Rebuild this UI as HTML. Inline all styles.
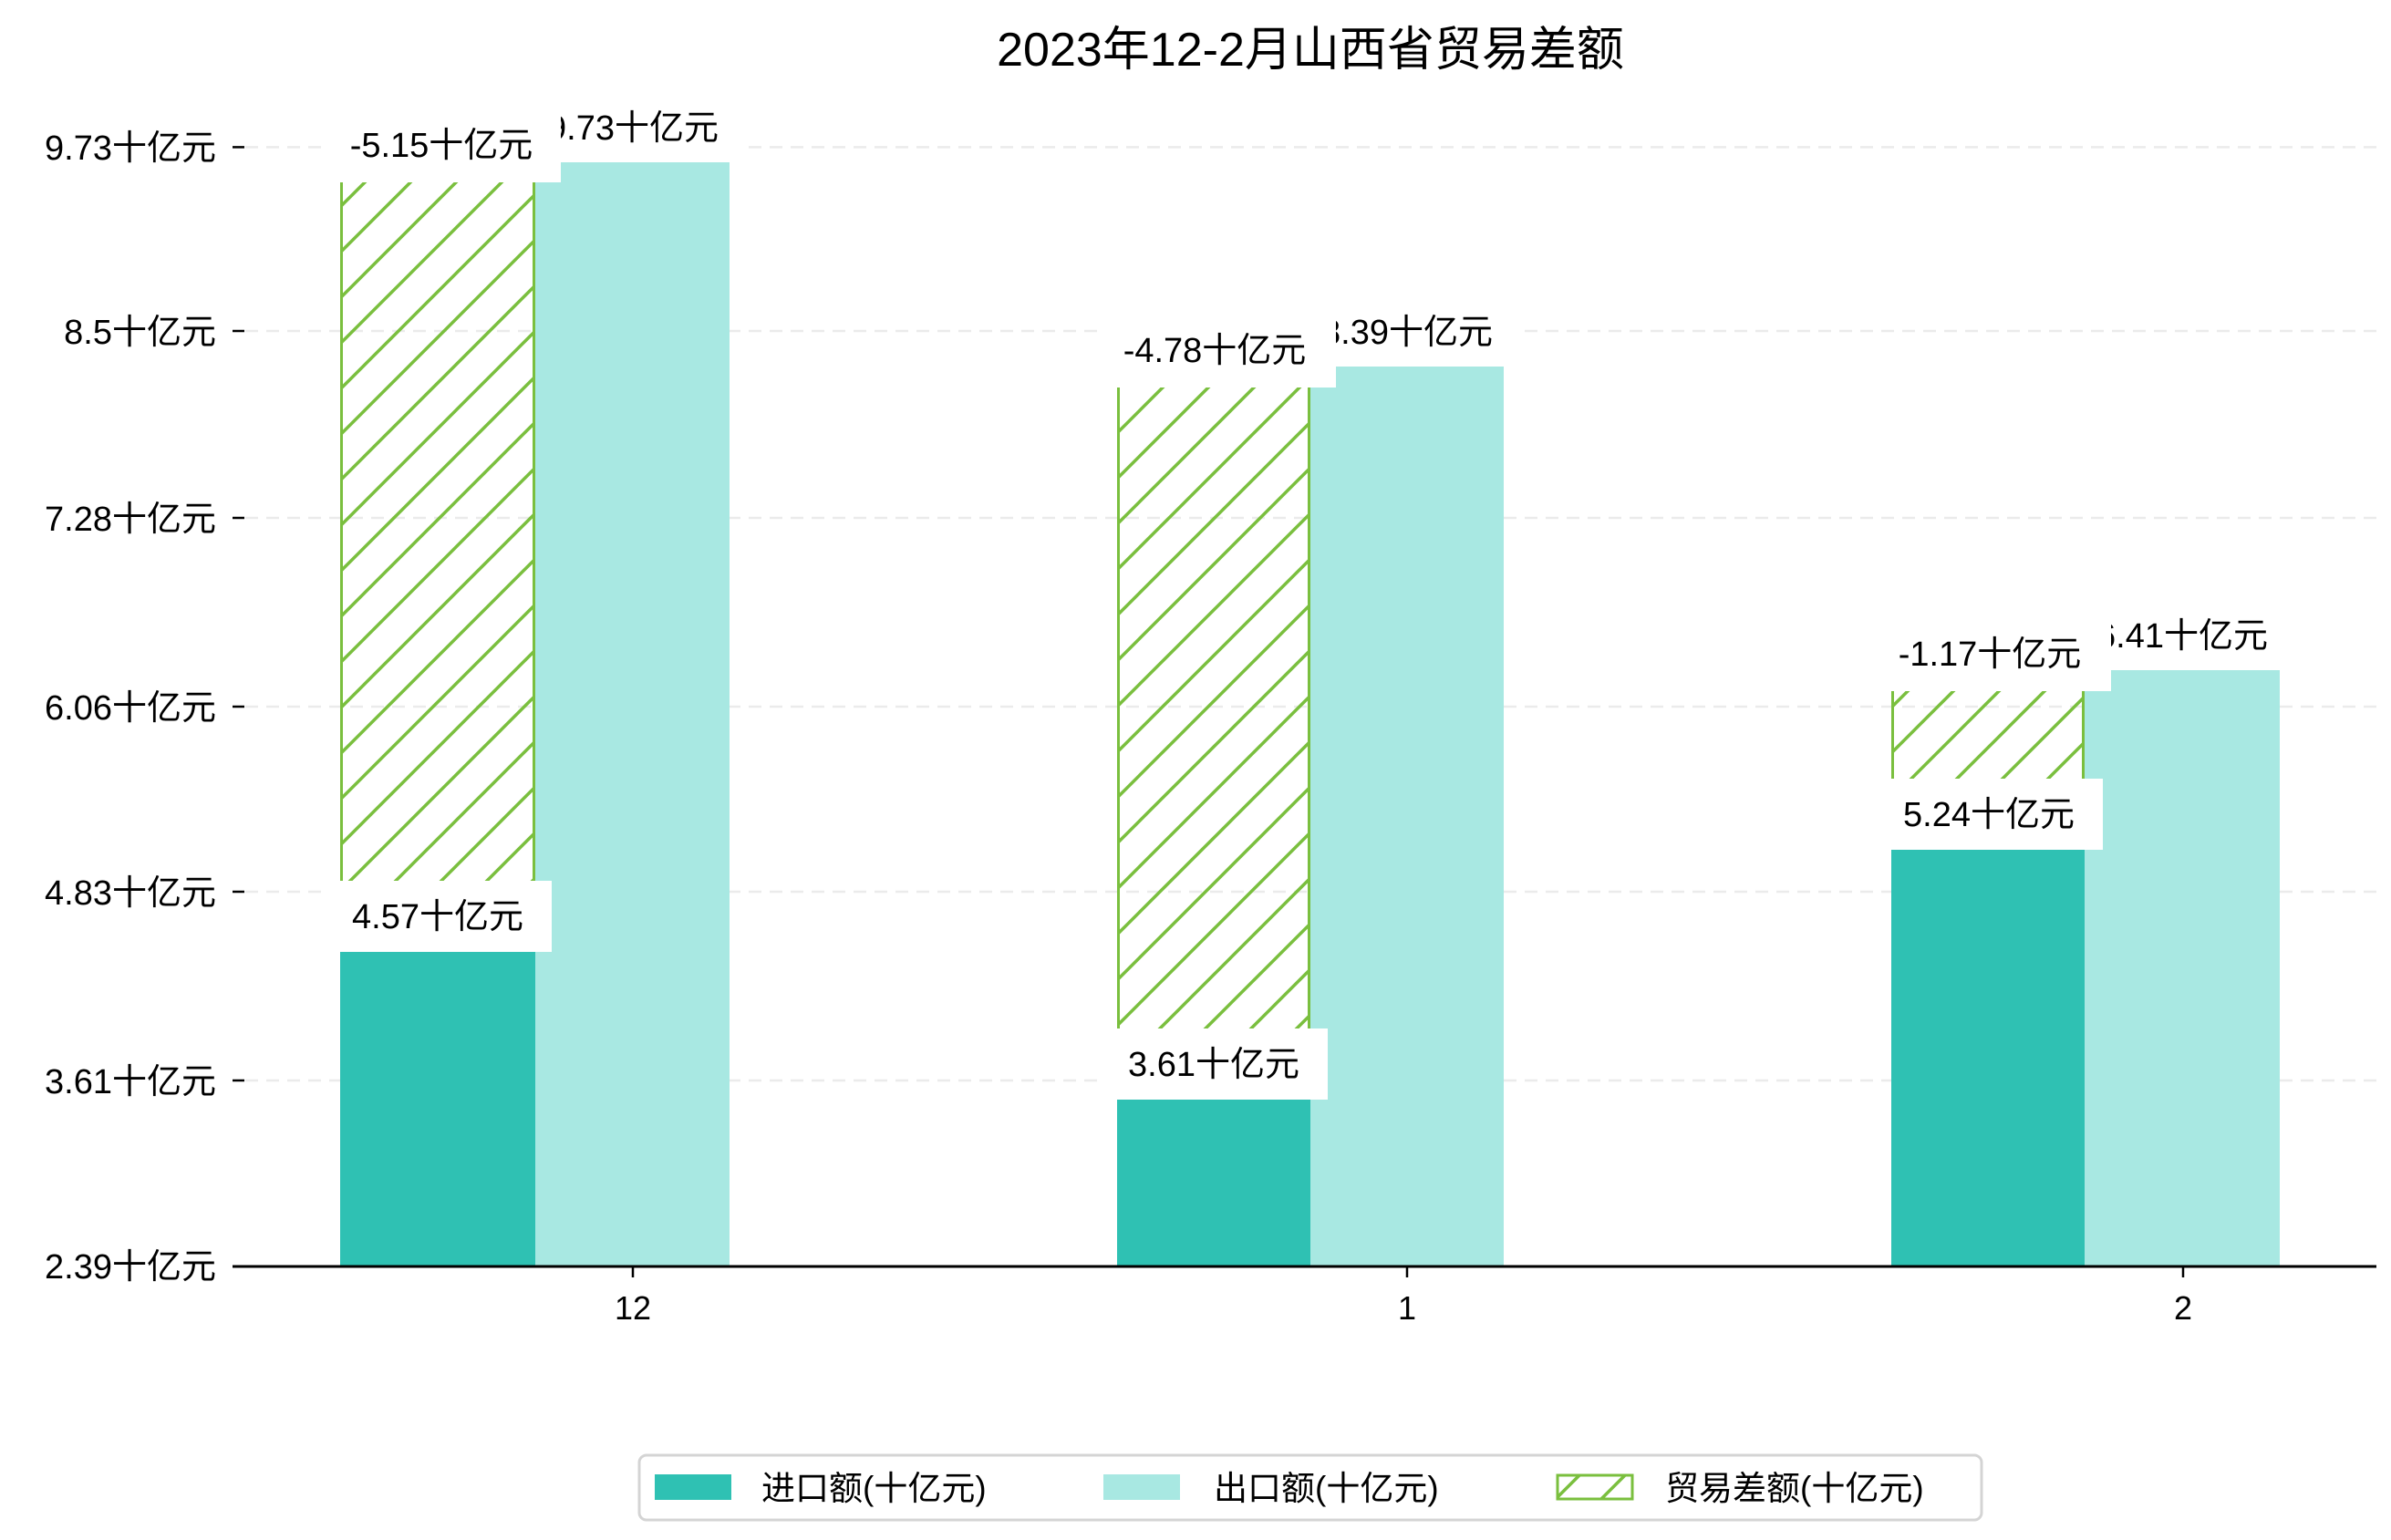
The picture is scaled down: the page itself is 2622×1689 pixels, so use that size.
<!DOCTYPE html>
<html><head><meta charset="utf-8"><style>
html,body{margin:0;padding:0;background:#fff;}
svg{display:block;}
text{font-family:"Liberation Sans","Noto Sans CJK SC",sans-serif;fill:#000;}
</style></head><body>
<svg width="2622" height="1689" viewBox="0 0 2622 1689" xmlns="http://www.w3.org/2000/svg">
<defs>
<pattern id="h" patternUnits="userSpaceOnUse" width="50" height="50">
<line x1="-5" y1="55" x2="55" y2="-5" stroke="#7abf3e" stroke-width="3.5"/>
<line x1="-30" y1="30" x2="30" y2="-30" stroke="#7abf3e" stroke-width="3.5"/>
<line x1="20" y1="80" x2="80" y2="20" stroke="#7abf3e" stroke-width="3.5"/>
</pattern>
</defs>
<text x="1437" y="72" font-size="52" text-anchor="middle">2023年12-2月山西省贸易差额</text>
<g stroke="#ebebeb" stroke-width="2.5" stroke-dasharray="14 9">
<line x1="269" y1="161.4" x2="2606" y2="161.4"/><line x1="269" y1="363" x2="2606" y2="363"/>
<line x1="269" y1="568" x2="2606" y2="568"/><line x1="269" y1="775" x2="2606" y2="775"/>
<line x1="269" y1="978" x2="2606" y2="978"/><line x1="269" y1="1185" x2="2606" y2="1185"/>
</g>
<g font-size="38" text-anchor="end">
<text x="237" y="175">9.73十亿元</text><text x="237" y="377">8.5十亿元</text>
<text x="237" y="582">7.28十亿元</text><text x="237" y="789">6.06十亿元</text>
<text x="237" y="992">4.83十亿元</text><text x="237" y="1199">3.61十亿元</text>
<text x="237" y="1402">2.39十亿元</text>
</g>
<g stroke="#000" stroke-width="2.5">
<line x1="255" y1="161.4" x2="268" y2="161.4"/><line x1="255" y1="363" x2="268" y2="363"/>
<line x1="255" y1="568" x2="268" y2="568"/><line x1="255" y1="775" x2="268" y2="775"/>
<line x1="255" y1="978" x2="268" y2="978"/><line x1="255" y1="1185" x2="268" y2="1185"/>
</g>
<!-- bars -->
<rect x="373" y="1042" width="214" height="347" fill="#2fc1b3"/>
<rect x="587" y="178" width="213" height="1211" fill="#a8e8e2"/>
<rect x="374.5" y="197" width="211" height="845" fill="url(#h)" stroke="#7abf3e" stroke-width="3"/>
<rect x="1225" y="1204" width="212" height="185" fill="#2fc1b3"/>
<rect x="1437" y="402" width="212" height="987" fill="#a8e8e2"/>
<rect x="1226.5" y="422" width="209" height="782" fill="url(#h)" stroke="#7abf3e" stroke-width="3"/>
<rect x="2074" y="930" width="212" height="459" fill="#2fc1b3"/>
<rect x="2286" y="735" width="214" height="654" fill="#a8e8e2"/>
<rect x="2075.5" y="755" width="209" height="175" fill="url(#h)" stroke="#7abf3e" stroke-width="3"/>
<!-- labels -->
<g font-size="38" text-anchor="middle">
<rect x="570" y="102" width="249" height="76" fill="#fff"/><text x="694" y="153">9.73十亿元</text>
<rect x="353" y="121" width="262" height="79" fill="#fff"/><text x="484" y="172">-5.15十亿元</text>
<rect x="356" y="966" width="249" height="78" fill="#fff"/><text x="480" y="1018">4.57十亿元</text>
<rect x="1419" y="326" width="249" height="76" fill="#fff"/><text x="1543" y="377">8.39十亿元</text>
<rect x="1203" y="346" width="262" height="79" fill="#fff"/><text x="1332" y="397">-4.78十亿元</text>
<rect x="1207" y="1128" width="249" height="78" fill="#fff"/><text x="1331" y="1180">3.61十亿元</text>
<rect x="2269" y="659" width="249" height="76" fill="#fff"/><text x="2393" y="710">6.41十亿元</text>
<rect x="2053" y="679" width="262" height="79" fill="#fff"/><text x="2182" y="730">-1.17十亿元</text>
<rect x="2057" y="854" width="249" height="78" fill="#fff"/><text x="2181" y="906">5.24十亿元</text>
</g>
<line x1="255" y1="1389" x2="2606" y2="1389" stroke="#000" stroke-width="3"/>
<g stroke="#000" stroke-width="2.5">
<line x1="694" y1="1389" x2="694" y2="1401"/><line x1="1543" y1="1389" x2="1543" y2="1401"/><line x1="2394" y1="1389" x2="2394" y2="1401"/>
</g>
<g font-size="36" text-anchor="middle">
<text x="694" y="1447">12</text><text x="1543" y="1447">1</text><text x="2394" y="1447">2</text>
</g>
<!-- legend -->
<rect x="701" y="1596" width="1472" height="71" rx="8" fill="#fff" stroke="#d4d4d4" stroke-width="3"/>
<rect x="718" y="1617" width="84" height="28" fill="#2fc1b3"/>
<text x="835" y="1645" font-size="37">进口额(十亿元)</text>
<rect x="1210" y="1617" width="84" height="28" fill="#a8e8e2"/>
<text x="1331" y="1645" font-size="37">出口额(十亿元)</text>
<rect x="1708" y="1618" width="82" height="26" fill="url(#h)" stroke="#7abf3e" stroke-width="3"/>
<text x="1826" y="1645" font-size="37">贸易差额(十亿元)</text>
</svg>
</body></html>
